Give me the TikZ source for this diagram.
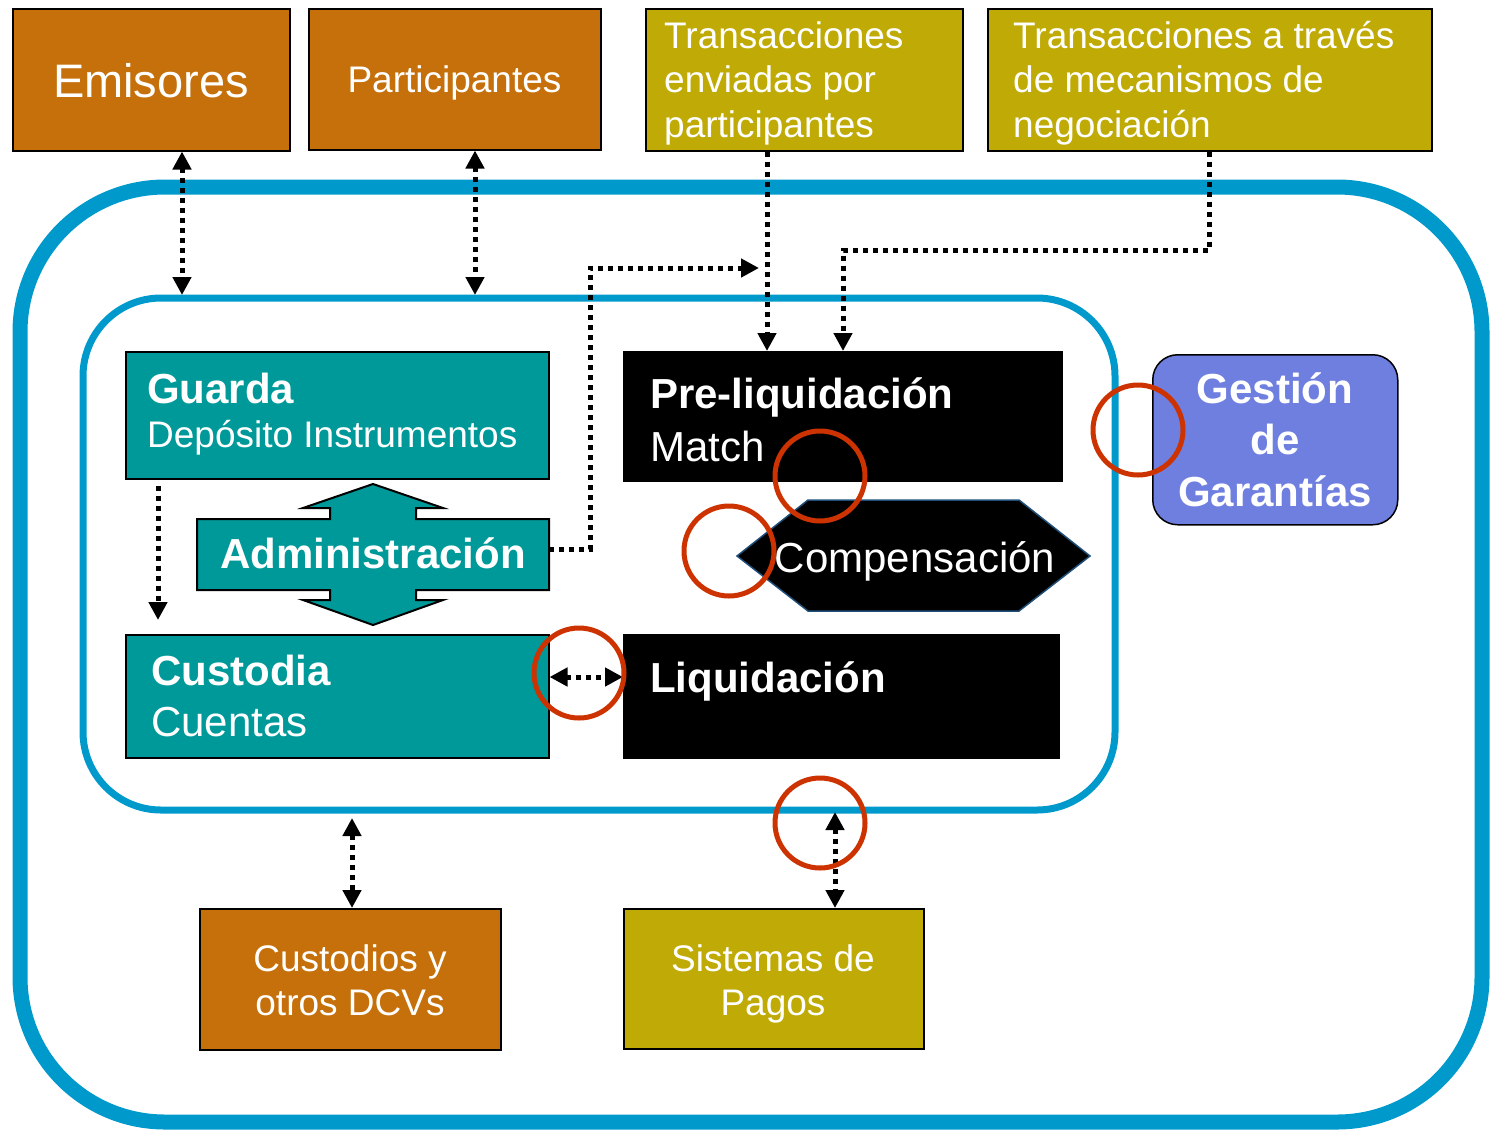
\documentclass[tikz,border=0pt]{standalone}
\usepackage{fontspec}
\setmainfont{Liberation Sans}
\usetikzlibrary{arrows.meta,calc}
\definecolor{orng}{HTML}{C5700A}
\definecolor{olv}{HTML}{BFAA06}
\definecolor{tealbox}{HTML}{009999}
\definecolor{framecol}{HTML}{0099CC}
\definecolor{peri}{HTML}{6F7FE0}
\definecolor{ringred}{HTML}{CC3300}
\definecolor{hexline}{HTML}{1F4E79}
\newcommand\fsA{\fontsize{37}{44.5}\selectfont}
\newcommand\fsB{\fontsize{42}{51}\selectfont}
\newcommand\fsC{\fontsize{37}{44}\selectfont}
\tikzset{
  box/.style={draw=black, line width=1.5pt, anchor=north west, inner sep=0pt},
  wtxt/.style={text=white, inner sep=0pt},
  conn/.style={line width=5pt, dash pattern=on 5pt off 5pt, black},
  onetip/.style={-{Triangle[width=18pt,length=18pt]}},
  twotips/.style={{Triangle[width=18pt,length=18pt]}-{Triangle[width=18pt,length=18pt]}},
  ring/.style={draw=ringred, line width=5pt},
}
\begin{document}
\begin{tikzpicture}[x=1pt,y=-1pt]
\useasboundingbox (0,0) rectangle (1490,1130);
% frames
\draw[framecol, line width=15pt, rounded corners=145pt] (20,187) rectangle (1482,1122);
\draw[framecol, line width=7pt, rounded corners=78pt] (83,298) rectangle (1115,810);
% top boxes
\node[box, fill=orng, minimum width=277, minimum height=142] (em) at (12,8) {};
\node[wtxt, anchor=base, font=\fontsize{47}{56}\selectfont] (emt) at (151,97) {Emisores};
\node[box, fill=orng, minimum width=292, minimum height=141] (pa) at (308,8) {};
\node[wtxt, anchor=base, font=\fontsize{37}{44}\selectfont] (pat) at (454.5,92) {Participantes};
\node[box, fill=olv, minimum width=317, minimum height=142] (te) at (645,8) {};
\node[wtxt, anchor=base west, align=left, font=\fsA] (tet) at (664,137) {Transacciones\\enviadas por\\participantes};
\node[box, fill=olv, minimum width=444, minimum height=142] (ta) at (987,8) {};
\node[wtxt, anchor=base west, align=left, font=\fsA] (tat) at (1013,137) {Transacciones a través\\de mecanismos de\\negociación};
% Guarda
\node[box, fill=tealbox, minimum width=423, minimum height=127] (gu) at (125,351) {};
\node[wtxt, anchor=base west, font=\fsB\bfseries] (gut) at (147,403) {Guarda};
\node[wtxt, anchor=base west, font=\fsC] (gus) at (147,447) {Depósito Instrumentos};
% Administracion
\filldraw[fill=tealbox, draw=black, line width=2pt]
  (197,519) -- (330,519) -- (330,508) -- (303,508) -- (373,484) -- (443,508) -- (416,508) -- (416,519)
  -- (549,519) -- (549,590) -- (416,590) -- (416,600) -- (443,600) -- (373,625) -- (303,600)
  -- (330,600) -- (330,590) -- (197,590) -- cycle;
\node[inner sep=0pt, minimum width=352, minimum height=71] (adm) at (373,554.5) {};
\node[wtxt, anchor=base, font=\fsB\bfseries] (admt) at (373,568) {Administración};
% Custodia
\node[box, fill=tealbox, minimum width=423, minimum height=123] (cu) at (125,634) {};
\node[wtxt, anchor=base west, font=\fsB\bfseries] (cut) at (151,685) {Custodia};
\node[wtxt, anchor=base west, font=\fsB] (cus) at (151,736) {Cuentas};
% Pre-liquidacion
\node[box, fill=black, minimum width=438, minimum height=129] (pre) at (623,351) {};
\node[wtxt, anchor=base west, font=\fsB\bfseries] (pret) at (650,408) {Pre-liquidación};
\node[wtxt, anchor=base west, font=\fsB] (pres) at (650,461) {Match};
% Compensacion
\filldraw[fill=black, draw=hexline, line width=1.5pt]
  (737,556) -- (808,500) -- (1019,500) -- (1090,556) -- (1019,611) -- (808,611) -- cycle;
\node[inner sep=0pt, minimum width=353, minimum height=111] (comp) at (913.5,555.5) {};
\node[wtxt, anchor=base, font=\fontsize{42}{50}\selectfont] (compt) at (915,572) {Compensación};
% Liquidacion
\node[box, fill=black, minimum width=435, minimum height=123] (li) at (623,634) {};
\node[wtxt, anchor=base west, font=\fsB\bfseries] (lit) at (650,692) {Liquidación};
% Gestion de Garantias
\node[box, fill=peri, rounded corners=25pt, minimum width=245, minimum height=170] (ge) at (1152,354) {};
\node[wtxt, anchor=base, align=center, font=\fontsize{42}{51.5}\selectfont\bfseries] (get) at (1275,506) {Gestión\\de\\Garantías};
% bottom boxes
\node[box, fill=orng, minimum width=301, minimum height=141] (cd) at (199,908) {};
\node[wtxt, anchor=base, align=center, font=\fsC] (cdt) at (350,1015) {Custodios y\\otros DCVs};
\node[box, fill=olv, minimum width=300, minimum height=140] (sp) at (623,908) {};
\node[wtxt, anchor=base, align=center, font=\fsC] (spt) at (773,1015) {Sistemas de\\Pagos};
% connectors
\coordinate (emA) at (182,295);
\draw[conn, twotips] (em.south -| emA) -- (emA);
\coordinate (paA) at (475,295);
\draw[conn, twotips] (pa.south -| paA) -- (paA);
\coordinate (teX) at (767,0);
\draw[conn, onetip] (te.south -| teX) -- (pre.north -| teX);
\coordinate (taX) at (1209,250);
\coordinate (taY) at (843,250);
\draw[conn, onetip] (ta.south -| taX) -- (taX) -- (taY) -- (pre.north -| taY);
\coordinate (admY) at (590,549);
\coordinate (admX) at (590,268);
\coordinate (admE) at (759,268);
\draw[conn, onetip] (adm.east |- admY) -- (admY) -- (admX) -- (admE);
\coordinate (gcX) at (158,0);
\draw[conn, onetip, shorten <=6pt, shorten >=14pt] (gu.south -| gcX) -- (cu.north -| gcX);
\coordinate (clY) at (0,677);
\draw[conn, twotips] (cu.east |- clY) -- (li.west |- clY);
\coordinate (cdA) at (352,818);
\draw[conn, twotips] (cdA) -- (cd.north -| cdA);
\coordinate (spA) at (835,812);
\draw[conn, twotips] (spA) -- (sp.north -| spA);
% red rings
\draw[ring] (820,476) circle[radius=45];
\draw[ring] (729,551) circle[radius=45];
\draw[ring] (1138,430) circle[radius=45];
\draw[ring] (579,673) circle[radius=45];
\draw[ring] (820,823) circle[radius=45];
\end{tikzpicture}
\end{document}
